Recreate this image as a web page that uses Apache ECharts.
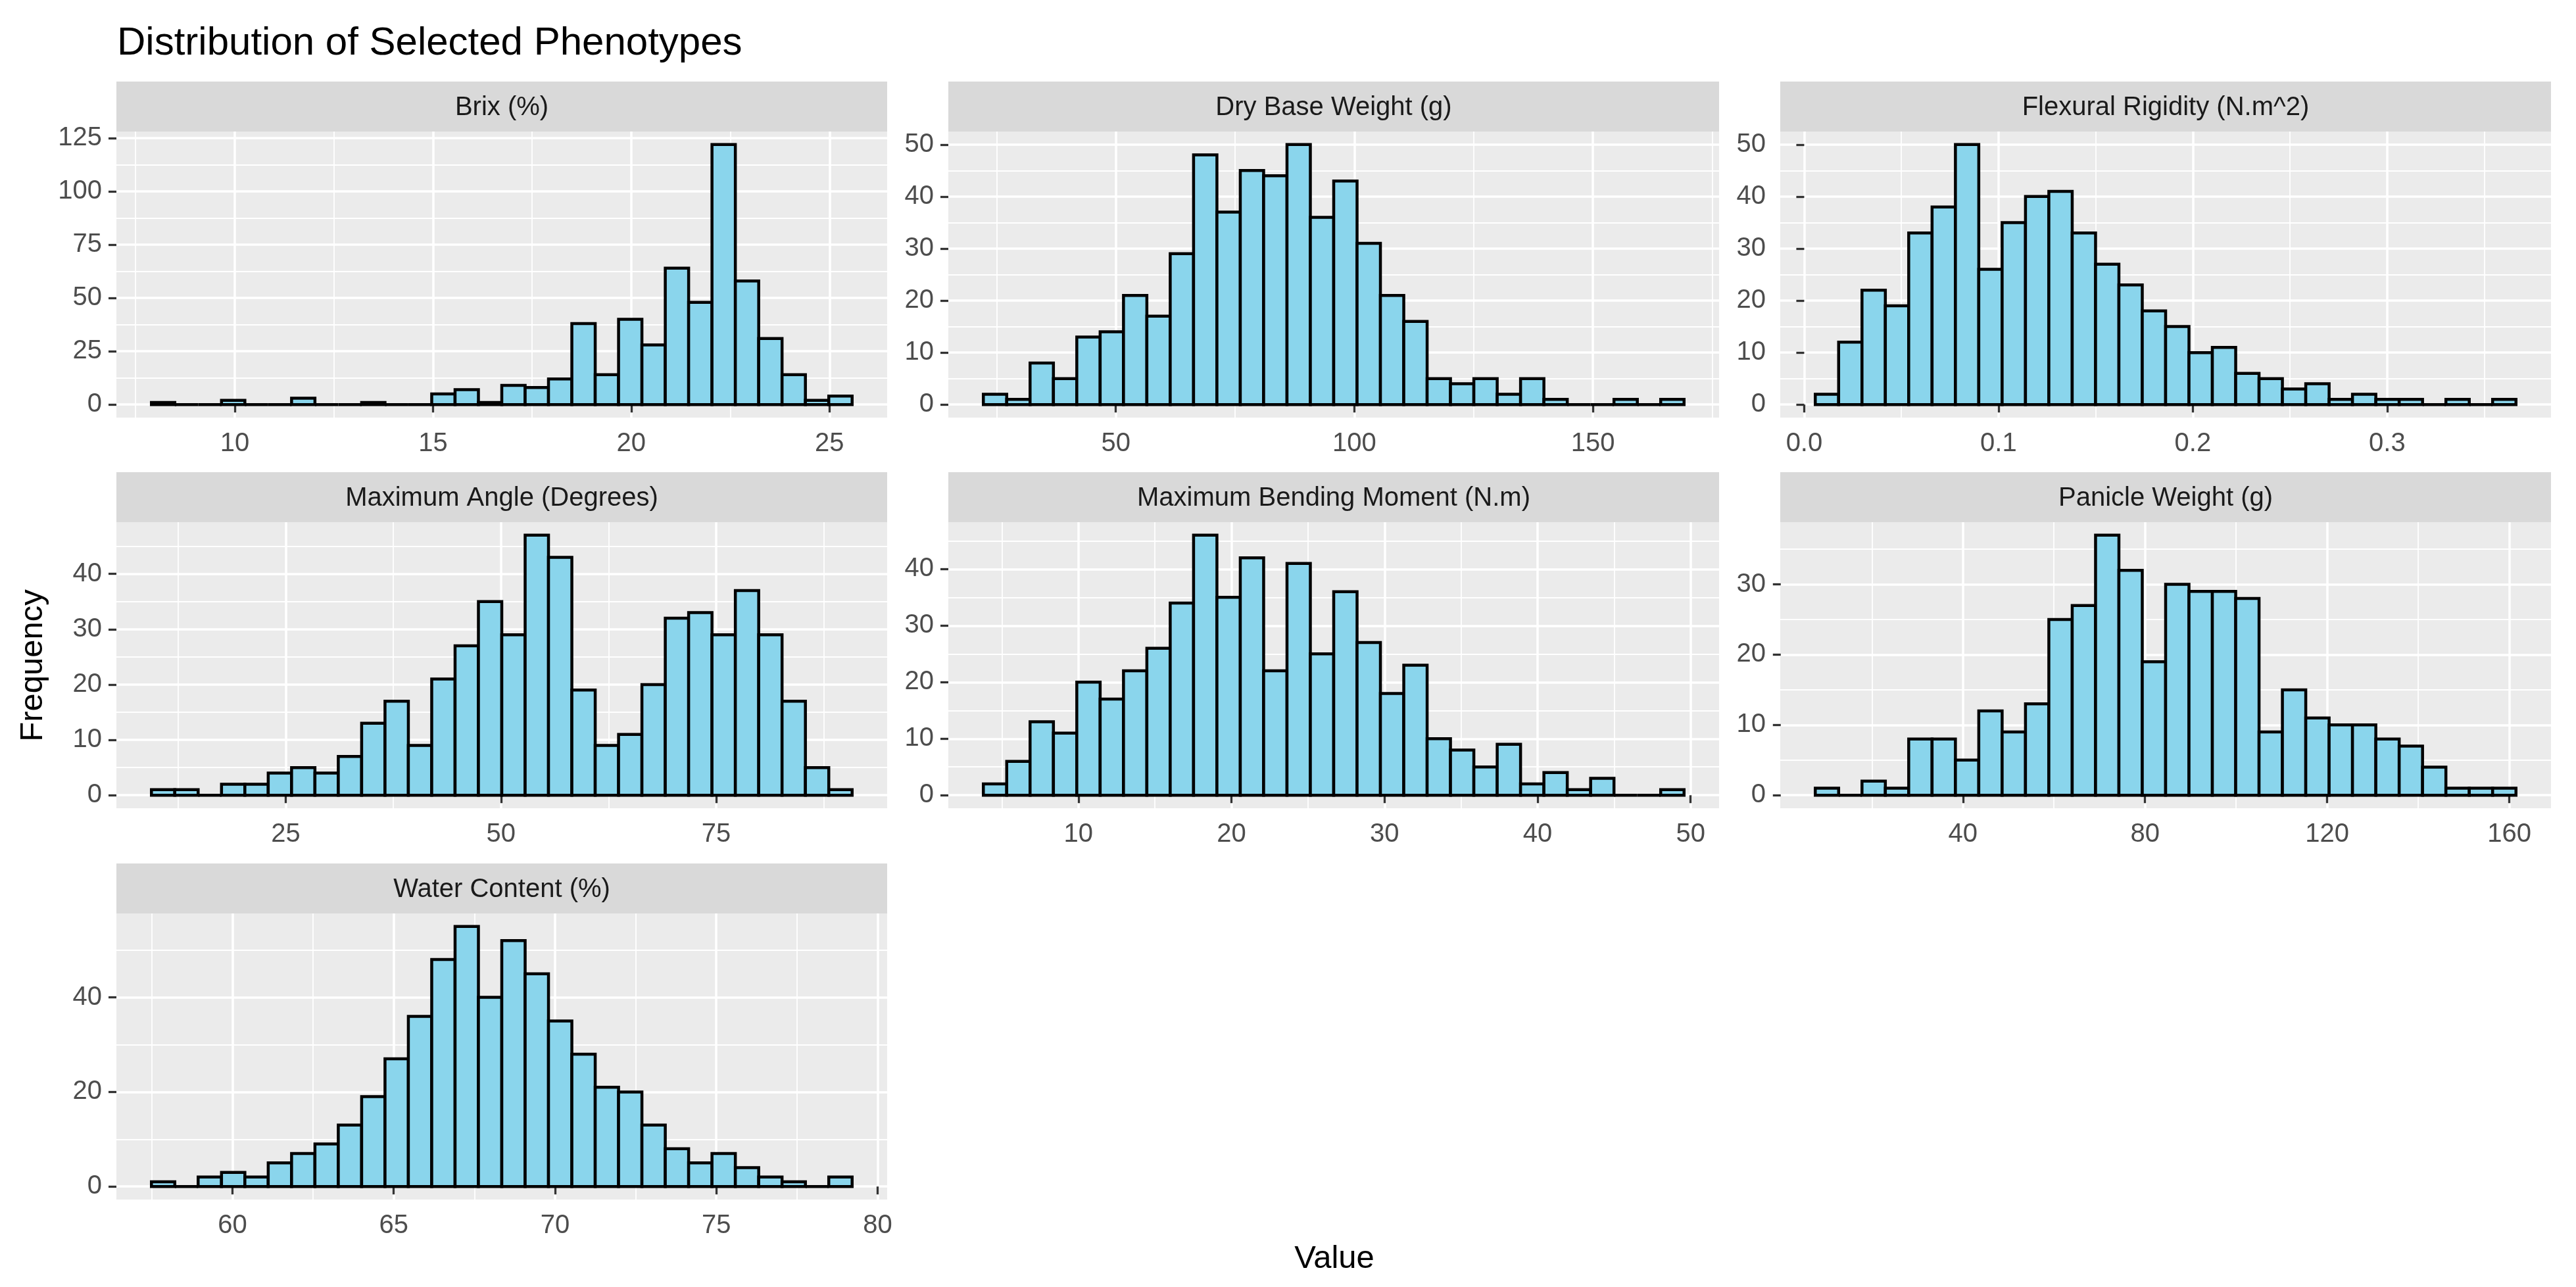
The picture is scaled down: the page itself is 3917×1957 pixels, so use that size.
<!DOCTYPE html>
<html>
<head>
<meta charset="utf-8">
<script src="https://cdn.jsdelivr.net/npm/echarts@6.0.0/dist/echarts.min.js"></script>
<style>
html,body{margin:0;padding:0;background:#fff;}
#chart{width:3917px;height:1957px;}
</style>
</head>
<body>
<div id="chart"></div>
<script>
// ---------- data ----------
const panelTitles = ['Brix (%)', 'Dry Base Weight (g)', 'Flexural Rigidity (N.m^2)',
  'Maximum Angle (Degrees)', 'Maximum Bending Moment (N.m)', 'Panicle Weight (g)', 'Water Content (%)'];

// histogram counts (30 bins each)
const brixCounts     = [1,0,0,2,0,0,3,0,0,1,0,0,5,7,1,9,8,12,38,14,40,28,64,48,122,58,31,14,2,4];
const dryCounts      = [2,1,8,5,13,14,21,17,29,48,37,45,44,50,36,43,31,21,16,5,4,5,2,5,1,0,0,1,0,1];
const flexCounts     = [2,12,22,19,33,38,50,26,35,40,41,33,27,23,18,15,10,11,6,5,3,4,1,2,1,1,0,1,0,1];
const angleCounts    = [1,1,0,2,2,4,5,4,7,13,17,9,21,27,35,29,47,43,19,9,11,20,32,33,29,37,29,17,5,1];
const bendCounts     = [2,6,13,11,20,17,22,26,34,46,35,42,22,41,25,36,27,18,23,10,8,5,9,2,4,1,3,0,0,1];
const panicleCounts  = [1,0,2,1,8,8,5,12,9,13,25,27,37,32,19,30,29,29,28,9,15,11,10,10,8,7,4,1,1,1];
const waterCounts    = [1,0,2,3,2,5,7,9,13,19,27,36,48,55,40,52,45,35,28,21,20,13,8,5,7,4,2,1,0,2];

// left edge of first bin and bin width
const binStarts = [7.9, 22.24, 0.0057, 9.40, 3.79, 7.58, 57.49];
const binWidths = [0.589, 4.895, 0.01202, 2.713, 1.526, 5.129, 0.724];

// axis tick labels
const xTicks = [[10,15,20,25],[50,100,150],[0.0,0.1,0.2,0.3],[25,50,75],[10,20,30,40,50],[40,80,120,160],[60,65,70,75,80]];
const xDecimals = [0,0,1,0,0,0,0];
const yTicks = [[0,25,50,75,100,125],[0,10,20,30,40,50],[0,10,20,30,40,50],[0,10,20,30,40],[0,10,20,30,40],[0,10,20,30],[0,20,40]];

const allCounts = [brixCounts, dryCounts, flexCounts, angleCounts, bendCounts, panicleCounts, waterCounts];

// ---------- layout ----------
const FONT = "'Liberation Sans', Arial, sans-serif";
const colLeft = [177, 1442, 2707];
const plotTop = [200, 794, 1389];
const panelW = 1172, panelH = 435, stripH = 76;

function minorsOf(ticks, lo, hi) {
  const step = ticks[1] - ticks[0];
  const out = [];
  for (let i = -1; i < ticks.length; i++) {
    const v = ticks[0] + (i + 0.5) * step;
    if (v > lo && v < hi) out.push(+v.toFixed(6));
  }
  return out;
}

const grids = [], xAxes = [], yAxes = [], series = [], graphics = [];

allCounts.forEach(function (counts, i) {
  const col = i % 3, row = Math.floor(i / 3);
  const left = colLeft[col], top = plotTop[row];
  grids.push({left: left, top: top, width: panelW, height: panelH,
    show: true, backgroundColor: '#EBEBEB', borderWidth: 0, containLabel: false});

  const span = binWidths[i] * counts.length;
  const xmin = binStarts[i] - 0.05 * span, xmax = binStarts[i] + span + 0.05 * span;
  const cmax = Math.max.apply(null, counts);
  const ymin = -0.05 * cmax, ymax = 1.05 * cmax;
  const dec = xDecimals[i];

  xAxes.push({
    type: 'value', gridIndex: i, min: xmin, max: xmax, position: 'bottom',
    axisLine: {show: false},
    axisTick: {show: true, length: 12, customValues: xTicks[i], lineStyle: {color: '#333333', width: 3.3}},
    axisLabel: {show: true, customValues: xTicks[i], margin: 20, fontSize: 40, color: '#4D4D4D', fontFamily: FONT,
      formatter: function (v) { return Number(v).toFixed(dec); }},
    splitLine: {show: true, lineStyle: {color: '#FFFFFF', width: 3.5}}
  });
  xAxes.push({
    type: 'value', gridIndex: i, min: xmin, max: xmax, position: 'top',
    axisLine: {show: false},
    axisTick: {show: false, customValues: minorsOf(xTicks[i], xmin, xmax)},
    axisLabel: {show: false, customValues: minorsOf(xTicks[i], xmin, xmax)},
    splitLine: {show: true, lineStyle: {color: '#FFFFFF', width: 1.8}}
  });
  yAxes.push({
    type: 'value', gridIndex: i, min: ymin, max: ymax, position: 'left',
    axisLine: {show: false},
    axisTick: {show: true, length: 12, customValues: yTicks[i], lineStyle: {color: '#333333', width: 3.3}},
    axisLabel: {show: true, customValues: yTicks[i], margin: 22, fontSize: 40, color: '#4D4D4D', fontFamily: FONT},
    splitLine: {show: true, lineStyle: {color: '#FFFFFF', width: 3.5}}
  });
  yAxes.push({
    type: 'value', gridIndex: i, min: ymin, max: ymax, position: 'right',
    axisLine: {show: false},
    axisTick: {show: false, customValues: minorsOf(yTicks[i], ymin, ymax)},
    axisLabel: {show: false, customValues: minorsOf(yTicks[i], ymin, ymax)},
    splitLine: {show: true, lineStyle: {color: '#FFFFFF', width: 1.8}}
  });

  const data = counts.map(function (c, k) {
    return [binStarts[i] + k * binWidths[i], binStarts[i] + (k + 1) * binWidths[i], c];
  });
  series.push({
    type: 'custom', xAxisIndex: 2 * i, yAxisIndex: 2 * i, data: data,
    encode: {x: [0, 1], y: 2}, silent: true, animation: false,
    renderItem: function (params, api) {
      const p0 = api.coord([api.value(0), 0]);
      const p1 = api.coord([api.value(1), api.value(2)]);
      return {type: 'rect',
        shape: {x: p0[0], y: p1[1], width: p1[0] - p0[0], height: p0[1] - p1[1]},
        style: {fill: '#8AD5EC', stroke: '#000000', lineWidth: 4.5}};
    }
  });

  graphics.push({type: 'rect', left: left, top: top - stripH, silent: true,
    shape: {width: panelW, height: stripH}, style: {fill: '#D9D9D9'}});
  graphics.push({type: 'text', x: left + panelW / 2, y: top - stripH / 2 + 2, silent: true,
    style: {text: panelTitles[i], fill: '#1A1A1A', font: '40px ' + FONT, align: 'center', verticalAlign: 'middle'}});
});

graphics.push({type: 'text', x: 178, y: 66, silent: true,
  style: {text: 'Distribution of Selected Phenotypes', fill: '#000000', font: '60px ' + FONT, align: 'left', verticalAlign: 'middle'}});
graphics.push({type: 'text', x: 2029, y: 1914, silent: true,
  style: {text: 'Value', fill: '#000000', font: '49px ' + FONT, align: 'center', verticalAlign: 'middle'}});
graphics.push({type: 'text', x: 50, y: 1012, rotation: Math.PI / 2, silent: true,
  style: {text: 'Frequency', fill: '#000000', font: '49px ' + FONT, align: 'center', verticalAlign: 'middle'}});

const chart = echarts.init(document.getElementById('chart'), null, {renderer: 'canvas', width: 3917, height: 1957});
chart.setOption({
  animation: false,
  backgroundColor: '#FFFFFF',
  grid: grids,
  xAxis: xAxes,
  yAxis: yAxes,
  series: series,
  graphic: graphics
});
</script>
</body>
</html>
